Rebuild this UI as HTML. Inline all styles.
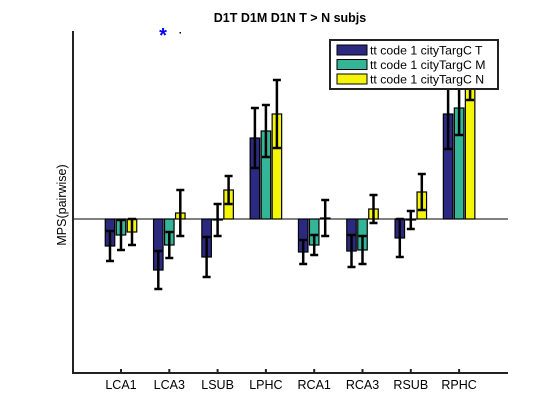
<!DOCTYPE html>
<html><head><meta charset="utf-8"><style>
body{margin:0;background:#fff;}
svg{display:block;font-family:"Liberation Sans",sans-serif;}
</style></head><body>
<svg id="chart" width="560" height="420"></svg>
<script>
const categories=["LCA1","LCA3","LSUB","LPHC","RCA1","RCA3","RSUB","RPHC"];
const seriesNames=["tt code 1 cityTargC T","tt code 1 cityTargC M","tt code 1 cityTargC N"];
const valuesT=[-0.27,-0.51,-0.38,0.81,-0.33,-0.32,-0.19,1.05];
const valuesM=[-0.16,-0.26,-0.01,0.88,-0.26,-0.31,-0.01,1.11];
const valuesN=[-0.13,0.06,0.29,1.05,0.01,0.10,0.27,1.36];
const errT=[0.15,0.19,0.20,0.30,0.12,0.16,0.19,0.35];
const errM=[0.15,0.13,0.16,0.26,0.10,0.14,0.09,0.27];
const errN=[0.13,0.23,0.14,0.34,0.18,0.14,0.18,0.17];
const colors=["#2c2a80","#35b597","#f5f50a"];
const NS="http://www.w3.org/2000/svg";
const svg=document.getElementById("chart");
const X0=73,X1=508,Y0=373,Y1=31,ymin=-1.54,ymax=1.88;
function yS(v){return Y0-(v-ymin)/(ymax-ymin)*(Y0-Y1);}
function xS(i){return 121+i*48.3;}
function el(t,a){const e=document.createElementNS(NS,t);for(const k in a)e.setAttribute(k,a[k]);svg.appendChild(e);return e;}
let t=el("text",{x:290,y:22,"text-anchor":"middle","font-size":"12.5","font-weight":"bold"});t.textContent="D1T D1M D1N T > N subjs";


t=el("text",{x:0,y:0,"text-anchor":"middle","font-size":"12.5",transform:"translate(66,205) rotate(-90)"});t.textContent="MPS(pairwise)";


const series=[valuesT,valuesM,valuesN],errs=[errT,errM,errN];
const bw=9.5,off=[-11,0,11];
for(let s=0;s<3;s++){for(let i=0;i<categories.length;i++){
 const v=series[s][i],cx=xS(i)+off[s];
 const r=el("rect",{x:cx-bw/2,y:Math.min(yS(v),yS(0)),width:bw,height:Math.abs(yS(v)-yS(0)),fill:colors[s],stroke:"#000","stroke-width":1.2});
 
 
}}
for(let s=0;s<3;s++){for(let i=0;i<categories.length;i++){
 const v=series[s][i],e=errs[s][i],cx=xS(i)+off[s];
 const g=document.createElementNS(NS,"g");svg.appendChild(g);
 
 
 const a=yS(v+e),b=yS(v-e);
 [[cx,a,cx,b],[cx-4,a,cx+4,a],[cx-4,b,cx+4,b]].forEach(l=>{const ln=document.createElementNS(NS,"line");
 ln.setAttribute("x1",l[0]);ln.setAttribute("y1",l[1]);ln.setAttribute("x2",l[2]);ln.setAttribute("y2",l[3]);
 ln.setAttribute("stroke","#000");ln.setAttribute("stroke-width","2.5");g.appendChild(ln);});
}}
let z=el("line",{x1:X0,y1:yS(0),x2:X1,y2:yS(0),stroke:"#000","stroke-width":1});


let ax=el("path",{d:`M${X0},${Y1} V${Y0} H${X1}`,fill:"none",stroke:"#222","stroke-width":2});


for(let i=0;i<categories.length;i++){
 el("line",{x1:xS(i),y1:Y0,x2:xS(i),y2:Y0-4,stroke:"#222","stroke-width":2});
 const l=el("text",{x:xS(i),y:389,"text-anchor":"middle","font-size":"12.5"});l.textContent=categories[i];
 
 
}
let st=el("text",{x:163,y:42,"text-anchor":"middle","font-size":"20","font-weight":"bold",fill:"#00f"});st.textContent="*";


el("rect",{x:179.5,y:32,width:1.5,height:1.5,fill:"#000"});
const lg=document.createElementNS(NS,"g");svg.appendChild(lg);


const lb=document.createElementNS(NS,"rect");
[["x",330],["y",40],["width",168],["height",49],["fill","#fff"],["stroke","#222"],["stroke-width","2"]].forEach(p=>lb.setAttribute(p[0],p[1]));lg.appendChild(lb);
for(let s=0;s<3;s++){
 const r=document.createElementNS(NS,"rect");
 [["x",337],["y",45+s*14.5],["width",30],["height",10],["fill",colors[s]],["stroke","#000"]].forEach(p=>r.setAttribute(p[0],p[1]));lg.appendChild(r);
 const tx=document.createElementNS(NS,"text");
 tx.setAttribute("x",370);tx.setAttribute("y",54.5+s*14.5);tx.setAttribute("font-size","12.3");tx.textContent=seriesNames[s];
 
 
 lg.appendChild(tx);
}
</script>
</body></html>
